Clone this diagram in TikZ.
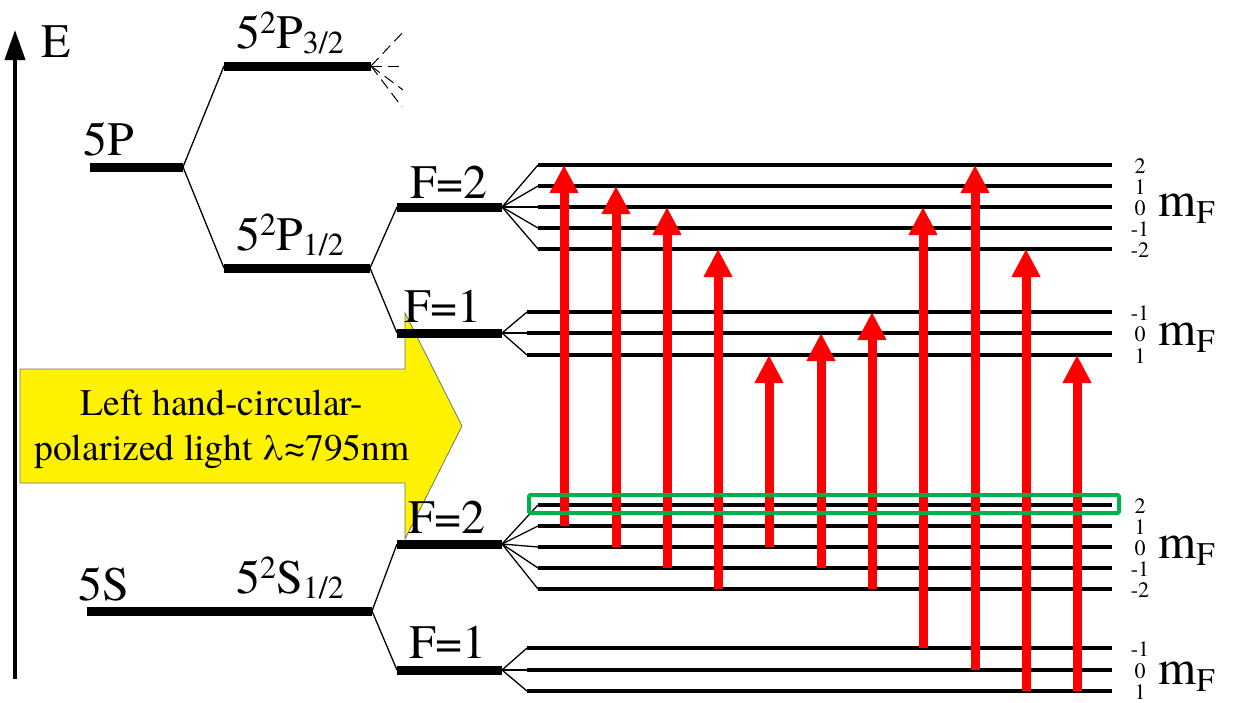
\documentclass[tikz,border=0pt]{standalone}
\usepackage{fontspec}
\IfFontExistsTF{texgyretermes-regular.otf}{%
  \setmainfont{texgyretermes-regular.otf}\newcommand{\lamapprox}{λ≈}}{%
  \newcommand{\lamapprox}{$\lambda\approx$}}
\usetikzlibrary{arrows.meta}
\definecolor{boxgreen}{RGB}{0,176,80}
\newcommand{\lvsup}[1]{\raisebox{15pt}{\fontsize{32}{32}\selectfont #1}}
\newcommand{\lvsub}[1]{\raisebox{-5pt}{\fontsize{32}{32}\selectfont #1}}
\newcommand{\mFlabel}{\fontsize{49}{49}\selectfont m\raisebox{-7pt}{\fontsize{33}{33}\selectfont F}}
\begin{document}
\begin{tikzpicture}[x=1pt,y=-1pt,
  bar/.style={line width=9pt},
  sublev/.style={line width=4.5pt},
  link/.style={line width=1.3pt},
  dashlink/.style={line width=1pt, dash pattern=on 11pt off 6pt},
  lbl/.style={font=\fontsize{48}{52}\selectfont, inner sep=0pt, anchor=base west},
  mnum/.style={font=\fontsize{22}{22}\selectfont, inner sep=0pt, anchor=base},
  mflbl/.style={inner sep=0pt, anchor=base west},
  pump/.style={draw=red, line width=9pt, -{Triangle[width=27pt,length=28pt]}},
  lighttxt/.style={font=\fontsize{37.5}{45}\selectfont, inner sep=0pt, anchor=base}]
\useasboundingbox (0,0) rectangle (1233,702);

% yellow light arrow
\draw[fill=yellow, draw=black!55, line width=0.8pt] (20,369) -- (405,369) -- (405,313) -- (462,426) -- (405,539) -- (405,483) -- (20,483) -- cycle;
\node[lighttxt] (t1) at (222,415) {Left hand-circular-};
\node[lighttxt] (t2) at (222,460) {polarized light \lamapprox795nm};

% energy axis
\coordinate (Ebot) at (15,679);
\coordinate (Etop) at (15,30);
\draw[line width=4pt, -{Triangle[width=20pt,length=30pt]}] (Ebot) -- (Etop);
\node[lbl] (E) at (41,57) {E};

% fine structure
\coordinate (P5l) at (90,167); \coordinate (P5r) at (183,167);
\coordinate (P32l) at (224,66); \coordinate (P32r) at (371,66);
\coordinate (P12l) at (224,268); \coordinate (P12r) at (370,268);
\coordinate (S5l) at (87,611); \coordinate (S5r) at (372,611);
\draw[bar] (P5l) -- (P5r);
\draw[bar] (P32l) -- (P32r);
\draw[bar] (P12l) -- (P12r);
\draw[bar] (S5l) -- (S5r);
\draw[link] (P5r) -- (P32l);
\draw[link] (P5r) -- (P12l);
\node[lbl] (l5P) at (83,155) {5P};
\node[lbl] (lP32) at (236,48) {5\lvsup{2}P\lvsub{3/2}};
\node[lbl] (lP12) at (236,250) {5\lvsup{2}P\lvsub{1/2}};
\node[lbl] (l5S) at (78,600) {5S};
\node[lbl] (lS12) at (236,593) {5\lvsup{2}S\lvsub{1/2}};

% dashed lines at 5^2P_{3/2}
\coordinate (d1) at (405,30); \coordinate (d2) at (405,66);
\coordinate (d3) at (403,90); \coordinate (d4) at (402,107);
\foreach \d in {d1,d2,d3,d4} \draw[dashlink] (P32r) -- (\d);

% hyperfine levels
\coordinate (UF2l) at (397,207); \coordinate (UF2r) at (502,207);
\coordinate (UF1l) at (397,333); \coordinate (UF1r) at (502,333);
\coordinate (LF2l) at (397,544); \coordinate (LF2r) at (502,544);
\coordinate (LF1l) at (397,670); \coordinate (LF1r) at (502,670);
\draw[bar] (UF2l) -- (UF2r);
\draw[bar] (UF1l) -- (UF1r);
\draw[bar] (LF2l) -- (LF2r);
\draw[bar] (LF1l) -- (LF1r);
\draw[link] (P12r) -- (UF2l);
\draw[link] (P12r) -- (UF1l);
\draw[link] (S5r) -- (LF2l);
\draw[link] (S5r) -- (LF1l);
\node[lbl] (lUF2) at (410,198) {F=2};
\node[lbl] (lUF1) at (404,322) {F=1};
\node[lbl] (lLF2) at (408,533) {F=2};
\node[lbl] (lLF1) at (409,658) {F=1};

% Zeeman sublevels
\foreach \n/\y/\t in {p2/165/2, p1/186/1, z/207/0, m1/228/-1, m2/249/-2} {
  \coordinate (U2\n) at (538,\y); \coordinate (U2\n e) at (1112,\y);
  \draw[sublev] (U2\n) -- (U2\n e);
  \draw[link] (UF2r) -- (U2\n);
  \node[mnum] (nU2\n) at (1140,\y+8) {\t};
}
\foreach \n/\y/\t in {m1/312/-1, z/333/0, p1/355/1} {
  \coordinate (U1\n) at (527,\y); \coordinate (U1\n e) at (1112,\y);
  \draw[sublev] (U1\n) -- (U1\n e);
  \draw[link] (UF1r) -- (U1\n);
  \node[mnum] (nU1\n) at (1140,\y+8) {\t};
}
\foreach \n/\y/\t in {p2/505/2, p1/526/1, z/547/0, m1/568/-1, m2/589/-2} {
  \coordinate (L2\n) at (538,\y); \coordinate (L2\n e) at (1112,\y);
  \draw[sublev] (L2\n) -- (L2\n e);
  \draw[link] (LF2r) -- (L2\n);
  \node[mnum] (nL2\n) at (1140,\y+8) {\t};
}
\foreach \n/\y/\t in {m1/648/-1, z/670/0, p1/691/1} {
  \coordinate (L1\n) at (527,\y); \coordinate (L1\n e) at (1112,\y);
  \draw[sublev] (L1\n) -- (L1\n e);
  \draw[link] (LF1r) -- (L1\n);
  \node[mnum] (nL1\n) at (1140,\y+8) {\t};
}
\node[mflbl] (mf1) at (1158,216) {\mFlabel};
\node[mflbl] (mf2) at (1158,345) {\mFlabel};
\node[mflbl] (mf3) at (1158,558) {\mFlabel};
\node[mflbl] (mf4) at (1158,684) {\mFlabel};

% pumping transitions
\draw[pump] (564,0 |- L2p1) -- (564,0 |- U2p2);
\draw[pump] (616,0 |- L2z) -- (616,0 |- U2p1);
\draw[pump] (667,0 |- L2m1) -- (667,0 |- U2z);
\draw[pump] (718,0 |- L2m2) -- (718,0 |- U2m2);
\draw[pump] (769,0 |- L2z) -- (769,0 |- U1p1);
\draw[pump] (821,0 |- L2m1) -- (821,0 |- U1z);
\draw[pump] (872,0 |- L2m2) -- (872,0 |- U1m1);
\draw[pump] (923,0 |- L1m1) -- (923,0 |- U2z);
\draw[pump] (975,0 |- L1z) -- (975,0 |- U2p2);
\draw[pump] (1026,0 |- L1p1) -- (1026,0 |- U2m2);
\draw[pump] (1077,0 |- L1p1) -- (1077,0 |- U1p1);

% dark state highlight
\coordinate (g1) at (529,495); \coordinate (g2) at (1119,513);
\draw[boxgreen, line width=4pt, rounded corners=1.5pt] (g1) rectangle (g2);
\end{tikzpicture}
\end{document}
